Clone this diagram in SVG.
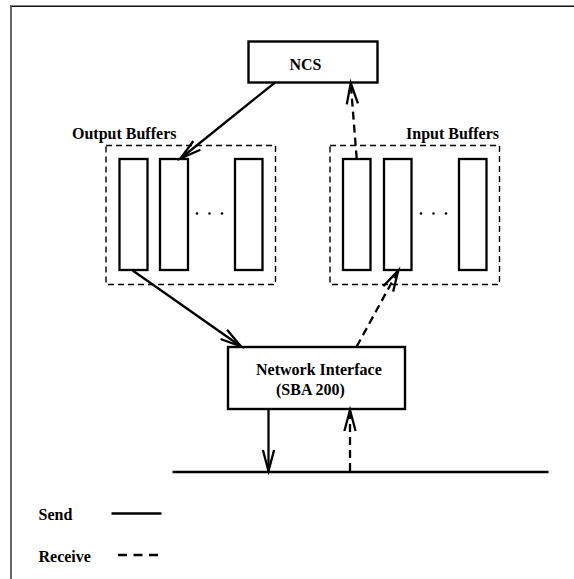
<svg xmlns="http://www.w3.org/2000/svg" width="574" height="579" viewBox="0 0 574 579">
<style>
text{font-family:"Liberation Serif","Times New Roman",serif;font-weight:bold;font-size:16px;fill:#000}
.box{fill:#fff;stroke:#000;stroke-width:2.4}
.buf{fill:#fff;stroke:#000;stroke-width:2.3}
.grp{fill:none;stroke:#000;stroke-width:1.4;stroke-dasharray:6 4}
.send{fill:none;stroke:#000;stroke-width:2.3}
.recv{fill:none;stroke:#000;stroke-width:2.3;stroke-dasharray:8 5}
.dot{fill:#000}
</style>
<defs>
<marker id="ah" markerUnits="userSpaceOnUse" markerWidth="30" markerHeight="20" viewBox="-24 -10 30 20" refX="0" refY="0" orient="auto" overflow="visible">
<path d="M-21,-5.6 L0,0 L-21,5.6" fill="none" stroke="#000" stroke-width="2.3" stroke-dasharray="none"/>
</marker>
</defs>
<line x1="10" y1="6.2" x2="574" y2="6.2" stroke="#111" stroke-width="1.4"/>
<line x1="11" y1="5.5" x2="11" y2="579" stroke="#555" stroke-width="1.8"/>

<g id="ncs">
<rect class="box" x="248.5" y="41.5" width="129" height="41"/>
<text x="305.5" y="69.5" text-anchor="middle">NCS</text>
</g>

<g id="output-buffers">
<rect class="grp" x="106" y="145.5" width="169.5" height="139"/>
<text x="72" y="139">Output Buffers</text>
<rect class="buf" x="119.5" y="159" width="28" height="111"/>
<rect class="buf" x="160" y="159" width="28" height="111"/>
<rect class="buf" x="235" y="159" width="27.5" height="111"/>
<circle class="dot" cx="197" cy="213.5" r="1.3"/>
<circle class="dot" cx="209.5" cy="213.5" r="1.3"/>
<circle class="dot" cx="222" cy="213.5" r="1.3"/>
</g>

<g id="input-buffers">
<rect class="grp" x="330" y="145.5" width="169.5" height="139"/>
<text x="499" y="139" text-anchor="end">Input Buffers</text>
<rect class="buf" x="343" y="159" width="27.5" height="111"/>
<rect class="buf" x="384" y="159" width="27.5" height="111"/>
<rect class="buf" x="459" y="159" width="27.5" height="111"/>
<circle class="dot" cx="421" cy="213.5" r="1.3"/>
<circle class="dot" cx="433.5" cy="213.5" r="1.3"/>
<circle class="dot" cx="446" cy="213.5" r="1.3"/>
</g>

<g id="network-interface">
<rect class="box" x="228" y="347" width="177" height="62"/>
<text x="256" y="375">Network Interface</text>
<text x="276" y="395">(SBA 200)</text>
</g>

<g id="network">
<line x1="172.5" y1="472" x2="548.5" y2="472" stroke="#000" stroke-width="2.6"/>
</g>

<g id="connectors">
<line class="send" x1="275" y1="82.5" x2="180.5" y2="158.5" marker-end="url(#ah)"/>
<line class="recv" x1="356.7" y1="158.5" x2="350.7" y2="83" marker-end="url(#ah)"/>
<line class="send" x1="132.7" y1="270.5" x2="241" y2="346.5" marker-end="url(#ah)"/>
<line class="recv" x1="356.7" y1="346.5" x2="398.3" y2="270.5" marker-end="url(#ah)"/>
<line class="send" x1="268.5" y1="409.5" x2="268.5" y2="471" marker-end="url(#ah)"/>
<line class="recv" x1="350" y1="471" x2="350" y2="410" marker-end="url(#ah)"/>
</g>

<g id="legend">
<text x="38.5" y="520">Send</text>
<line x1="111.5" y1="513.5" x2="161.5" y2="513.5" stroke="#000" stroke-width="2.4"/>
<text x="38.5" y="561.5">Receive</text>
<line x1="118" y1="555" x2="162" y2="555" stroke="#000" stroke-width="2.4" stroke-dasharray="9 6.5"/>
</g>
</svg>
